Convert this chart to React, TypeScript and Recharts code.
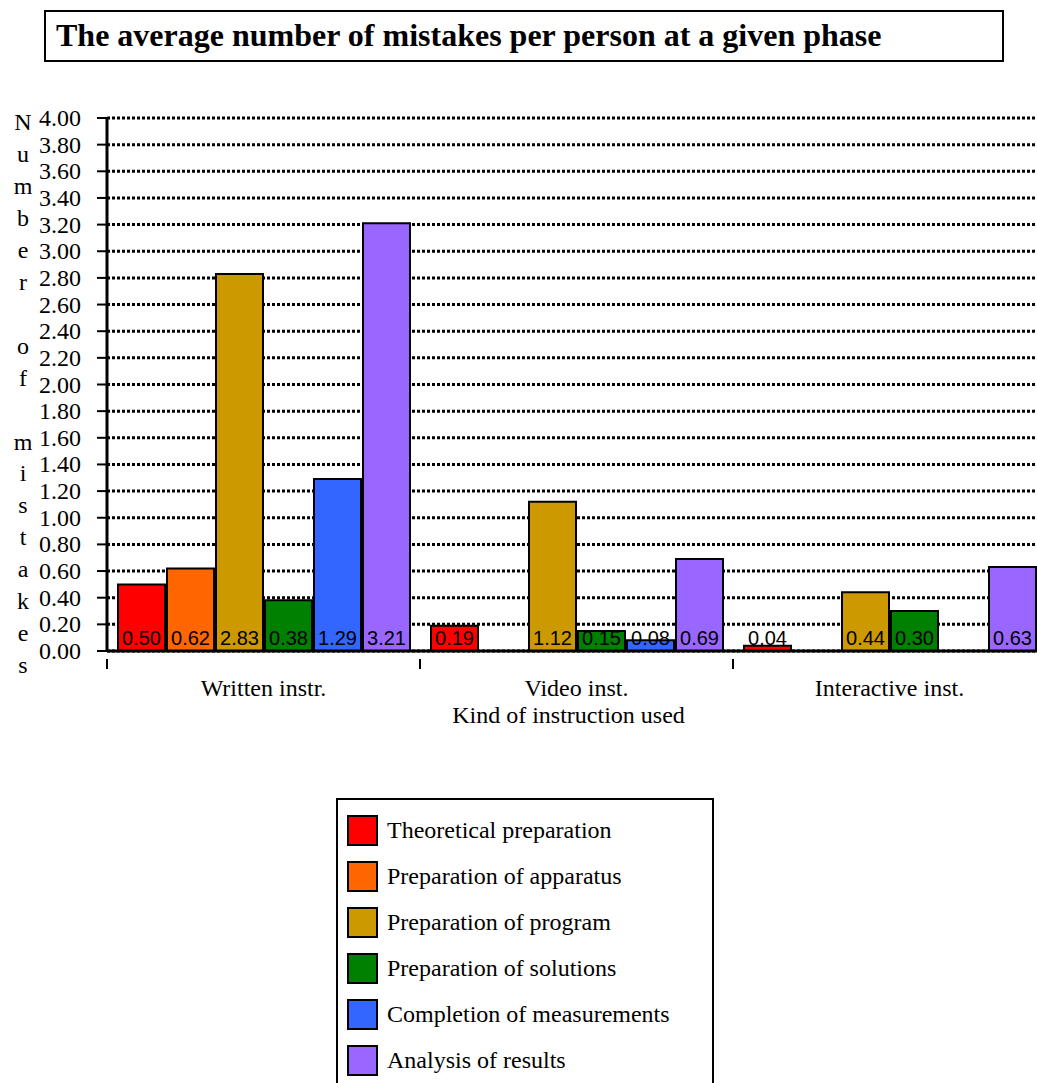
import React from 'react';
import { BarChart, Bar, XAxis, YAxis, CartesianGrid, Legend, LabelList } from 'recharts';

const CATEGORIES = ['Written instr.', 'Video inst.', 'Interactive inst.'];
const theoretical = [0.5, 0.19, 0.04];
const apparatus = [0.62, 0.0, 0.0];
const program = [2.83, 1.12, 0.44];
const solutions = [0.38, 0.15, 0.3];
const measurements = [1.29, 0.08, 0.0];
const analysis = [3.21, 0.69, 0.63];
const Y_TICKS = [0, 0.2, 0.4, 0.6, 0.8, 1.0, 1.2, 1.4, 1.6, 1.8, 2.0, 2.2, 2.4, 2.6, 2.8, 3.0, 3.2, 3.4, 3.6, 3.8, 4.0];

const TITLE = 'The average number of mistakes per person at a given phase';
const Y_TITLE = 'Number of mistakes';
const X_TITLE = 'Kind of instruction used';

const SERIES = [
  { key: 'theoretical', name: 'Theoretical preparation', color: '#ff0000', values: theoretical },
  { key: 'apparatus', name: 'Preparation of apparatus', color: '#ff6600', values: apparatus },
  { key: 'program', name: 'Preparation of program', color: '#cc9900', values: program },
  { key: 'solutions', name: 'Preparation of solutions', color: '#008000', values: solutions },
  { key: 'measurements', name: 'Completion of measurements', color: '#3366ff', values: measurements },
  { key: 'analysis', name: 'Analysis of results', color: '#9966ff', values: analysis },
];

const data = CATEGORIES.map((cat, i) => {
  const row: any = { category: cat };
  SERIES.forEach((s) => {
    row[s.key] = s.values[i];
  });
  return row;
});

const SERIF = '"Liberation Serif", "Times New Roman", serif';
const SANS = '"Liberation Sans", Arial, sans-serif';

function CategoryTick(props: any) {
  const { x, y, payload, index } = props;
  const half = payload.offset ?? 156.5;
  const isLast = index === CATEGORIES.length - 1;
  return (
    <g>
      <line x1={x - half} y1={y} x2={x - half} y2={y + 10} stroke="#000" strokeWidth={2} />
      {isLast && <line x1={x + half} y1={y} x2={x + half} y2={y + 10} stroke="#000" strokeWidth={2} />}
      <text x={x} y={y + 37} textAnchor="middle" fontFamily={SERIF} fontSize={24} fill="#000">
        {payload.value}
      </text>
    </g>
  );
}

function ValueTick(props: any) {
  const { x, y, payload } = props;
  return (
    <text x={x} y={y + 8} textAnchor="end" fontFamily={SERIF} fontSize={24} fill="#000">
      {Number(payload.value).toFixed(2)}
    </text>
  );
}

function ValueLabel(props: any) {
  const { x, y, width, height, value } = props;
  return (
    <text
      x={x + width / 2}
      y={y + height - 6}
      textAnchor="middle"
      fontFamily={SANS}
      fontSize={20}
      fill="#000"
    >
      {Number(value).toFixed(2)}
    </text>
  );
}

function VerticalTitle() {
  const chars = Y_TITLE.split('');
  return (
    <g>
      {chars.map((c, i) => (
        <text key={i} x={23} y={130 + i * 31.95} textAnchor="middle" fontFamily={SERIF} fontSize={24} fill="#000">
          {c.trim()}
        </text>
      ))}
    </g>
  );
}

function XTitle(props: any) {
  const { viewBox } = props;
  return (
    <text
      x={viewBox.x + viewBox.width / 2 - 8}
      y={viewBox.y + 72}
      textAnchor="middle"
      fontFamily={SERIF}
      fontSize={24}
      fill="#000"
    >
      {X_TITLE}
    </text>
  );
}

function LegendBox() {
  return (
    <div
      style={{
        border: '2px solid #000',
        background: '#fff',
        width: 378,
        height: 320,
        boxSizing: 'border-box',
        paddingTop: 7,
        fontFamily: SERIF,
      }}
    >
      {SERIES.map((s) => (
        <div key={s.key} style={{ display: 'flex', alignItems: 'center', height: 46, paddingLeft: 9 }}>
          <span
            style={{
              display: 'inline-block',
              width: 27,
              height: 27,
              background: s.color,
              border: '2px solid #000',
              marginRight: 9,
            }}
          />
          <span style={{ fontSize: 24, color: '#000' }}>{s.name}</span>
        </div>
      ))}
    </div>
  );
}

export default function App() {
  return (
    <div
      style={{
        position: 'absolute',
        left: 0,
        top: 0,
        width: 1037,
        height: 1083,
        overflow: 'hidden',
        background: '#fff',
        fontFamily: SERIF,
      }}
    >
      <div
        style={{
          position: 'absolute',
          left: 44,
          top: 10,
          width: 960,
          height: 52,
          boxSizing: 'border-box',
          border: '2px solid #000',
          paddingLeft: 10,
          fontWeight: 'bold',
          fontSize: 32,
          lineHeight: '46px',
          color: '#000',
          zIndex: 2,
          whiteSpace: 'nowrap',
        }}
      >
        {TITLE}
      </div>
      <BarChart
        width={1060}
        height={1083}
        data={data}
        margin={{ top: 118, right: 14, left: 0, bottom: 352 }}
        barCategoryGap={11}
        barGap={2}
      >
        <CartesianGrid vertical={false} stroke="#000" strokeWidth={3} strokeDasharray="3 2" />
        <XAxis
          dataKey="category"
          height={80}
          axisLine={{ stroke: '#000', strokeWidth: 3 }}
          tickLine={false}
          tick={<CategoryTick />}
          interval={0}
          label={<XTitle />}
        />
        <YAxis
          width={107}
          domain={[0, 4]}
          ticks={Y_TICKS}
          interval={0}
          axisLine={{ stroke: '#000', strokeWidth: 3 }}
          tickLine={{ stroke: '#000', strokeWidth: 2 }}
          tickSize={10}
          tickMargin={16}
          tick={<ValueTick />}
          label={<VerticalTitle />}
        />
        <Legend
          layout="horizontal"
          verticalAlign="middle"
          align="center"
          wrapperStyle={{ position: 'absolute', left: 336, top: 798, width: 378 }}
          content={() => <LegendBox />}
        />
        {SERIES.map((s) => (
          <Bar
            key={s.key}
            dataKey={s.key}
            name={s.name}
            fill={s.color}
            stroke="#000"
            strokeWidth={2}
            isAnimationActive={false}
          >
            <LabelList dataKey={s.key} content={<ValueLabel />} />
          </Bar>
        ))}
      </BarChart>
    </div>
  );
}
